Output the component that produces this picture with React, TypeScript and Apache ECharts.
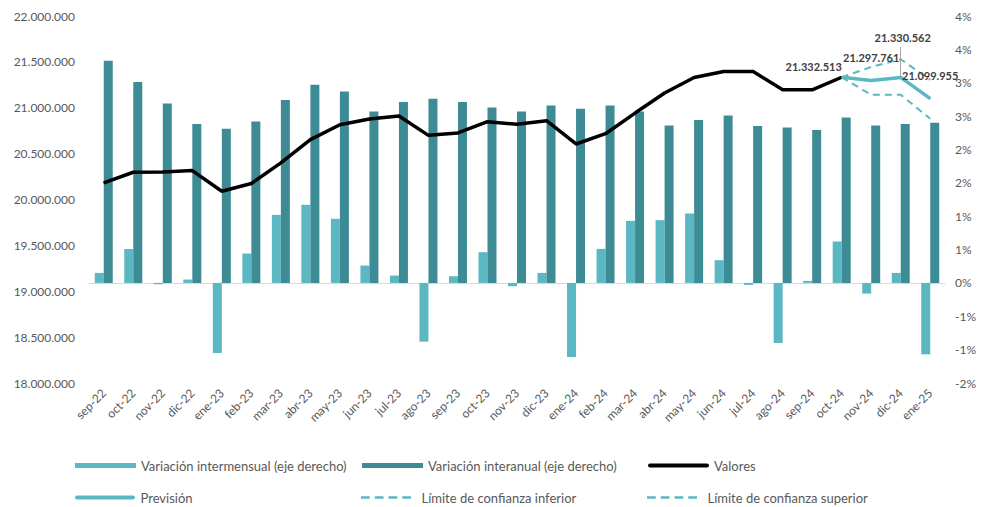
import React, { useEffect, useRef } from "react";
import * as echarts from "echarts";

const categories = [
  "sep-22", "oct-22", "nov-22", "dic-22", "ene-23", "feb-23", "mar-23", "abr-23", "may-23", "jun-23",
  "jul-23", "ago-23", "sep-23", "oct-23", "nov-23", "dic-23", "ene-24", "feb-24", "mar-24", "abr-24",
  "may-24", "jun-24", "jul-24", "ago-24", "sep-24", "oct-24", "nov-24", "dic-24", "ene-25",
];

// percentages (right axis)
const intermensual = [
  0.15, 0.51, -0.02, 0.05, -1.05, 0.44, 1.02, 1.17, 0.96, 0.26,
  0.11, -0.88, 0.1, 0.46, -0.05, 0.15, -1.11, 0.51, 0.93, 0.94,
  1.04, 0.34, -0.03, -0.9, 0.03, 0.62, -0.16, 0.15, -1.07,
];
const interanual = [
  3.33, 3.01, 2.69, 2.38, 2.31, 2.42, 2.74, 2.97, 2.87, 2.57,
  2.71, 2.76, 2.71, 2.63, 2.57, 2.66, 2.61, 2.66, 2.57, 2.36,
  2.44, 2.51, 2.35, 2.33, 2.29, 2.48, 2.36, 2.38, 2.4,
];

// values (left axis)
const valores: (number | null)[] = [
  20181000, 20297000, 20299000, 20315000, 20090000, 20174000, 20399000, 20652000, 20815000, 20877000,
  20910000, 20699000, 20725000, 20848000, 20819000, 20859000, 20605000, 20717000, 20942000, 21160000,
  21329000, 21395000, 21395000, 21196000, 21196000, 21332513, null, null, null,
];
const prevision: (number | null)[] = [
  ...Array(25).fill(null), 21332513, 21297761, 21330562, 21099955,
];
const limiteInferior: (number | null)[] = [
  ...Array(25).fill(null), 21332513, 21141000, 21141000, 20880000,
];
const limiteSuperior: (number | null)[] = [
  ...Array(25).fill(null), 21332513, 21445000, 21529000, 21304000,
];

const leftTicks = { min: 18000000, max: 22000000, interval: 500000 };
const rightTicks = { min: -1.5, max: 4, interval: 0.5 };

const LIGHT = "#5BB7C2";
const DARK = "#3D8C95";
const FONT = "Lato";
const TXT = "#595959";

const fmtThousands = (v: number) =>
  Math.round(v).toString().replace(/\B(?=(\d{3})+(?!\d))/g, ".");
const fmtPct = (v: number) => {
  const r = Math.sign(v) * Math.round(Math.abs(v) + 1e-9);
  return `${r === 0 ? 0 : r}%`;
};

const labelStyle = {
  show: true,
  position: "top",
  fontFamily: FONT,
  fontSize: 11,
  fontWeight: "bold",
  color: "#404040",
  formatter: (p: any) => fmtThousands(p.value),
};

const SOLID_ICON = "path://M2,0h56a2,2 0 0 1 0,4h-56a2,2 0 0 1 0,-4z";
const DASH_ICON = "path://M0,0h10.5v3h-10.5z M16.5,0h10.5v3h-10.5z M33,0h10.5v3h-10.5z M49.5,0h10.5v3h-10.5z";

export default function App() {
  const ref = useRef<HTMLDivElement>(null);
  useEffect(() => {
    if (!ref.current) return;
    const chart = echarts.init(ref.current, null, { renderer: "svg" });
    const legendText = { fontFamily: FONT, fontSize: 13, color: TXT };
    const mkLegend = (name: string, left: number, top: number, icon: string, h: number) => ({
      data: [{ name, icon }],
      left,
      top,
      padding: 0,
      itemWidth: 61,
      itemHeight: h,
      itemGap: 5,
      textStyle: legendText,
      selectedMode: false,
    });
    const valoresData = valores.map((v, i) =>
      i === 25 ? { value: v, label: { ...labelStyle, offset: [-28, 0] } } : v
    );
    const labelOffsets: Record<number, number[]> = { 26: [0, -12], 27: [2, -29], 28: [0, -12] };
    const previsionData = prevision.map((v, i) =>
      labelOffsets[i] ? { value: v, label: { ...labelStyle, offset: labelOffsets[i] } } : v
    );
    const dicIdx = 27;
    const dicVal = prevision[dicIdx] as number;
    chart.setOption({
      animation: false,
      backgroundColor: "#ffffff",
      textStyle: { fontFamily: FONT },
      grid: { left: 89, right: 36, top: 16, bottom: 124 },
      legend: [
        mkLegend("Variación intermensual (eje derecho)", 75, 459, "rect", 5),
        mkLegend("Variación interanual (eje derecho)", 362, 459, "rect", 5),
        mkLegend("Valores", 648, 459, SOLID_ICON, 5),
        mkLegend("Previsión", 75, 491, SOLID_ICON, 4),
        mkLegend("Límite de confianza inferior", 361, 491, DASH_ICON, 2.5),
        mkLegend("Límite de confianza superior", 647, 491, DASH_ICON, 2.5),
      ],
      xAxis: {
        type: "category",
        data: categories,
        axisLine: { lineStyle: { color: "#D9D9D9", width: 1 } },
        axisTick: { show: false },
        axisLabel: {
          interval: 0,
          rotate: 45,
          color: TXT,
          fontSize: 12,
          fontFamily: FONT,
          margin: 8,
        },
      },
      yAxis: [
        {
          type: "value",
          ...leftTicks,
          splitLine: { show: false },
          axisLine: { show: false },
          axisTick: { show: false },
          axisLabel: {
            color: TXT,
            fontSize: 12,
            fontFamily: FONT,
            margin: 14,
            formatter: (v: number) => fmtThousands(v),
          },
        },
        {
          type: "value",
          ...rightTicks,
          position: "right",
          splitLine: { show: false },
          axisLine: { show: false },
          axisTick: { show: false },
          axisLabel: {
            color: TXT,
            fontSize: 12,
            fontFamily: FONT,
            margin: 10,
            formatter: (v: number) => fmtPct(v),
          },
        },
      ],
      series: [
        {
          name: "Variación intermensual (eje derecho)",
          type: "bar",
          yAxisIndex: 1,
          data: intermensual,
          barWidth: 9,
          barGap: "0%",
          itemStyle: { color: LIGHT },
        },
        {
          name: "Variación interanual (eje derecho)",
          type: "bar",
          yAxisIndex: 1,
          data: interanual,
          barWidth: 9,
          barGap: "0%",
          itemStyle: { color: DARK },
        },
        {
          name: "Valores",
          type: "line",
          yAxisIndex: 0,
          data: valoresData,
          symbol: "circle",
          symbolSize: 1,
          showSymbol: true,
          lineStyle: { color: "#000000", width: 3.5 },
          itemStyle: { color: "#000000" },
          z: 5,
        },
        {
          name: "Límite de confianza inferior",
          type: "line",
          yAxisIndex: 0,
          data: limiteInferior,
          symbol: "none",
          lineStyle: { color: LIGHT, width: 2, type: [7, 5] },
          itemStyle: { color: LIGHT },
          z: 4,
        },
        {
          name: "Límite de confianza superior",
          type: "line",
          yAxisIndex: 0,
          data: limiteSuperior,
          symbol: "none",
          lineStyle: { color: LIGHT, width: 2, type: [7, 5] },
          itemStyle: { color: LIGHT },
          z: 4,
        },
        {
          name: "Previsión",
          type: "line",
          yAxisIndex: 0,
          data: previsionData,
          symbol: "circle",
          symbolSize: 1,
          showSymbol: true,
          lineStyle: { color: LIGHT, width: 3.5 },
          itemStyle: { color: LIGHT },
          z: 6,
          markLine: {
            silent: true,
            symbol: ["none", "none"],
            label: { show: false },
            lineStyle: { color: "#A6A6A6", width: 1, type: "solid" },
            emphasis: { disabled: true },
            data: [
              [
                { coord: [categories[dicIdx], dicVal - 20000] },
                { coord: [categories[dicIdx], dicVal + 330000] },
              ],
            ],
          },
        },
      ],
    });
    return () => chart.dispose();
  }, []);
  return (
    <div
      ref={ref}
      style={{ position: "fixed", left: 0, top: 0, width: 981, height: 507, background: "#fff" }}
    />
  );
}
